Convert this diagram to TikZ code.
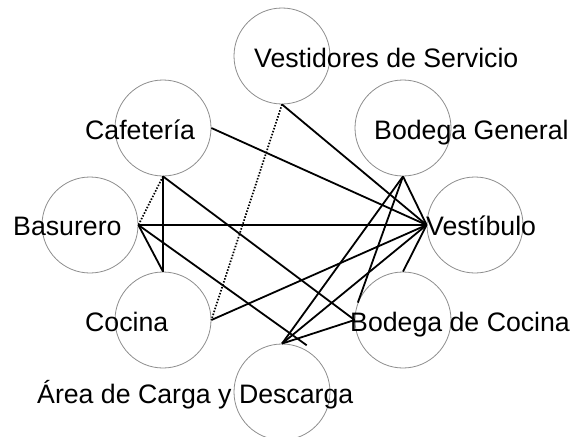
\documentclass[tikz,border=0pt]{standalone}
\usepackage{fontspec}
\setmainfont{Liberation Sans}
\usetikzlibrary{calc}
\definecolor{ring}{RGB}{140,140,140}
\begin{document}
\begin{tikzpicture}[x=1pt,y=-1pt,
  room/.style={circle,draw=ring,line width=0.8pt,minimum size=96pt,inner sep=0pt},
  lbl/.style={anchor=base west,inner sep=0pt,font=\fontsize{26.7}{32}\selectfont},
  link/.style={line width=1.8pt,black},
  dotlink/.style={line width=1.7pt,black,dash pattern=on 1.5pt off 1.6pt}]
\useasboundingbox (0,0) rectangle (572,436);
\clip (0,0) rectangle (572,436);
% circles
\node[room] (vs) at (282,56) {};
\node[room] (caf) at (163,128) {};
\node[room] (bg) at (403,128) {};
\node[room] (bas) at (90,225) {};
\node[room] (vest) at (475,225) {};
\node[room] (coc) at (163,320) {};
\node[room] (bc) at (403,320) {};
\node[room] (area) at (282,392) {};
% labels
\node[lbl] (tvs) at (254,67) {Vestidores de Servicio};
\node[lbl] (tcaf) at (85,139) {Cafetería};
\node[lbl] (tbg) at (374,139) {Bodega General};
\node[lbl] (tbas) at (13,235) {Basurero};
\node[lbl] (tvest) at (426,235) {Vestíbulo};
\node[lbl] (tcoc) at (85,331) {Cocina};
\node[lbl] (tbc) at (350,331) {Bodega de Cocina};
\node[lbl] (tarea) at (37,403) {Área de Carga y Descarga};
% connectors
\draw[link] (caf.east) -- (vest.west);
\draw[link] (vs.south) -- (vest.west);
\draw[dotlink] (vs.south) -- (coc.east);
\draw[dotlink] (caf.south) -- (bas.east);
\draw[link] (caf.south) -- (coc.north);
\draw[link] (caf.south) -- (bc.west);
\draw[link] (bas.east) -- (vest.west);
\draw[link] (bas.east) -- (coc.north);
\coordinate (bend) at ($(area.62)+(2,-4)$);
\draw[link] (bas.east) -- (bend);
\draw[link] (coc.east) -- (vest.west);
\draw[link] (bg.south) -- (vest.west);
\draw[link] (bg.south) -- (area.north);
\draw[link] (bg.south) -- (bc.159);
\draw[link] (vest.west) -- (bc.north);
\draw[link] (area.north) -- (vest.west);
\draw[link] (area.north) -- (bc.west);
\end{tikzpicture}
\end{document}
